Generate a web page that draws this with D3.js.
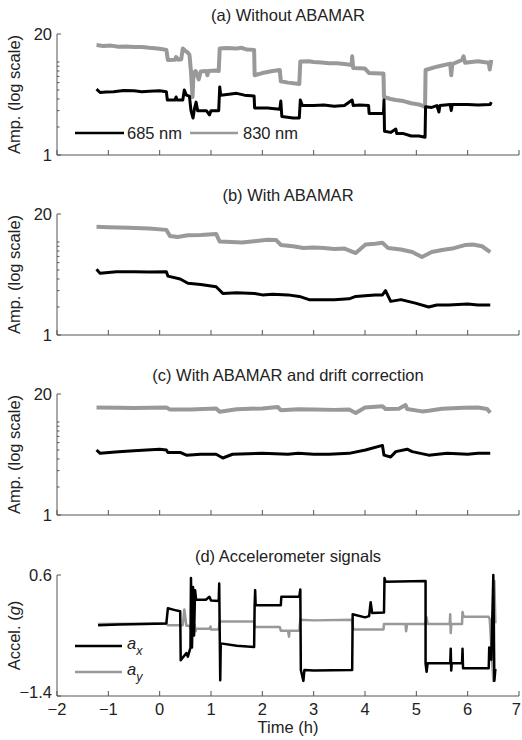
<!DOCTYPE html>
<html>
<head>
<meta charset="utf-8">
<script src="https://cdn.jsdelivr.net/npm/d3@7"></script>
<style>
  body { margin: 0; background: #fff; }
  text { font-family: "Liberation Sans", Arial, sans-serif; fill: #222; }
</style>
</head>
<body>
<div id="chart"></div>
<script>
// Time axis (hours)
const timeTicks = [-2, -1, 0, 1, 2, 3, 4, 5, 6, 7];

// (a) Without ABAMAR  [time, amplitude]
const ampA685 = [[-1.23,5.1],[-1.16,4.7],[-1.05,4.75],[-0.9,4.8],[-0.7,4.95],[-0.5,4.9],[-0.35,4.8],[-0.2,4.85],[0.0,4.9],[0.13,4.8],[0.15,3.9],[0.30,3.9],[0.32,4.2],[0.34,3.9],[0.45,3.9],[0.48,5.0],[0.52,4.4],[0.58,4.3],[0.61,3.0],[0.65,2.5],[0.68,3.2],[0.71,3.7],[0.74,3.0],[0.91,3.0],[0.97,2.7],[1.0,3.0],[1.15,3.0],[1.17,5.4],[1.19,4.4],[1.35,4.5],[1.5,4.6],[1.65,4.4],[1.84,4.3],[1.85,3.2],[2.1,3.2],[2.34,3.1],[2.36,3.8],[2.38,2.6],[2.6,2.5],[2.72,2.5],[2.74,3.9],[2.78,3.4],[3.0,3.4],[3.2,3.45],[3.4,3.35],[3.6,3.4],[3.75,3.9],[3.77,3.4],[3.9,3.45],[4.07,3.4],[4.08,2.8],[4.36,2.8],[4.37,3.9],[4.38,1.8],[4.5,1.75],[4.6,1.9],[4.62,1.7],[4.75,1.7],[4.9,1.6],[5.05,1.6],[5.17,1.55],[5.18,3.3],[5.3,3.25],[5.4,3.4],[5.44,2.9],[5.46,3.4],[5.66,3.5],[5.68,3.0],[5.70,3.5],[6.0,3.5],[6.2,3.45],[6.44,3.5],[6.46,3.7]];
const ampA830 = [[-1.23,15.2],[-1.1,14.9],[-0.95,15.0],[-0.8,14.6],[-0.65,14.7],[-0.5,14.5],[-0.35,14.5],[-0.2,14.2],[0.0,13.9],[0.13,13.5],[0.16,10.5],[0.30,10.6],[0.32,11.3],[0.36,10.6],[0.42,10.7],[0.45,14.0],[0.50,13.2],[0.55,12.6],[0.58,12.0],[0.61,7.9],[0.64,4.2],[0.66,7.6],[0.70,8.0],[0.76,6.5],[0.80,7.9],[0.91,8.0],[0.93,7.2],[0.95,8.0],[1.10,8.1],[1.15,8.0],[1.17,14.0],[1.30,14.1],[1.50,14.0],[1.60,14.2],[1.70,13.6],[1.84,13.5],[1.85,7.2],[2.0,7.6],[2.2,8.0],[2.34,8.2],[2.36,6.2],[2.5,6.0],[2.72,5.8],[2.74,10.1],[2.9,10.2],[3.0,10.0],[3.15,9.9],[3.3,9.7],[3.45,9.7],[3.6,9.5],[3.74,9.3],[3.75,11.5],[3.77,8.6],[4.0,8.5],[4.08,7.6],[4.30,7.5],[4.36,7.5],[4.37,4.2],[4.5,4.0],[4.6,3.9],[4.75,3.8],[4.9,3.6],[5.05,3.5],[5.17,3.3],[5.18,8.2],[5.4,8.9],[5.66,9.6],[5.68,7.2],[5.70,9.5],[5.89,10.5],[5.92,11.5],[5.95,9.8],[6.2,10.2],[6.41,9.8],[6.43,8.3],[6.46,10.5]];

// (b) With ABAMAR
const ampB685 = [[-1.23,5.1],[-1.16,4.6],[-1.0,4.7],[-0.84,4.8],[-0.5,4.8],[-0.2,4.75],[0.13,4.8],[0.16,4.3],[0.4,4.0],[0.55,3.6],[0.8,3.5],[1.10,3.3],[1.23,2.8],[1.5,2.85],[1.85,2.8],[2.0,2.7],[2.2,2.75],[2.5,2.7],[2.72,2.6],[2.91,2.4],[3.2,2.4],[3.4,2.4],[3.69,2.45],[3.82,2.6],[4.0,2.65],[4.2,2.7],[4.34,2.7],[4.40,3.0],[4.50,2.3],[4.7,2.4],[4.98,2.2],[5.24,2.0],[5.4,2.1],[5.63,2.1],[6.0,2.15],[6.2,2.1],[6.44,2.1]];
const ampB830 = [[-1.23,14.6],[-1.0,14.4],[-0.8,14.3],[-0.6,14.2],[-0.2,14.0],[0.13,13.5],[0.2,11.6],[0.35,11.3],[0.55,11.8],[0.8,11.9],[1.10,12.2],[1.17,10.1],[1.4,10.0],[1.6,9.9],[1.84,10.2],[2.1,10.6],[2.27,10.5],[2.36,9.3],[2.6,9.0],[2.8,8.6],[3.0,8.7],[3.2,8.6],[3.4,8.4],[3.6,8.5],[3.82,7.6],[4.01,9.4],[4.2,9.6],[4.34,9.8],[4.45,8.6],[4.7,8.3],[4.92,7.8],[5.11,6.9],[5.3,7.8],[5.5,8.2],[5.7,8.5],[5.96,9.3],[6.1,9.4],[6.28,9.0],[6.44,7.8]];

// (c) With ABAMAR and drift correction
const ampC685 = [[-1.23,5.0],[-1.16,4.6],[-0.8,4.8],[-0.5,4.9],[0.0,5.1],[0.13,5.0],[0.16,4.7],[0.4,4.7],[0.52,4.4],[0.8,4.5],[1.10,4.5],[1.23,4.1],[1.42,4.5],[2.0,4.6],[2.5,4.5],[2.7,4.6],[3.0,4.5],[3.3,4.5],[3.69,4.6],[4.01,5.0],[4.34,5.6],[4.37,4.4],[4.50,4.2],[4.6,4.8],[4.82,5.1],[4.92,4.8],[5.24,4.4],[5.6,4.6],[6.0,4.5],[6.2,4.6],[6.44,4.6]];
const ampC830 = [[-1.23,14.3],[-0.8,14.2],[-0.5,14.1],[0.13,14.3],[0.2,13.6],[0.6,13.6],[1.1,14.0],[1.17,12.9],[1.5,13.7],[2.0,14.0],[2.3,14.5],[2.36,13.4],[2.7,13.7],[3.0,13.6],[3.4,13.5],[3.69,13.6],[3.82,12.5],[4.0,14.3],[4.34,14.8],[4.4,13.8],[4.66,13.9],[4.79,15.2],[4.82,13.8],[5.11,13.0],[5.24,13.2],[5.5,13.9],[5.92,14.2],[6.2,14.3],[6.38,13.8],[6.44,12.6]];

// (d) Accelerometer signals (g)
const accX = [[-1.2,-0.23],[-0.8,-0.22],[-0.3,-0.21],[0.13,-0.2],[0.16,0.05],[0.30,0.02],[0.40,0.0],[0.41,-0.81],[0.52,-0.69],[0.55,-0.75],[0.60,-0.6],[0.61,0.55],[0.63,-0.6],[0.65,0.4],[0.67,-0.4],[0.69,0.35],[0.71,0.19],[0.90,0.19],[0.97,0.24],[1.0,0.18],[1.15,0.17],[1.16,0.46],[1.18,-1.14],[1.19,-0.53],[1.5,-0.57],[1.84,-0.59],[1.85,0.10],[1.86,0.35],[1.87,0.10],[2.36,0.10],[2.37,0.24],[2.72,0.24],[2.74,0.36],[2.75,-0.97],[2.80,-1.15],[2.82,-0.97],[3.0,-0.98],[3.75,-0.97],[3.76,-0.05],[4.0,-0.1],[4.08,-0.08],[4.11,0.15],[4.14,-0.03],[4.37,-0.02],[4.38,0.55],[4.40,0.49],[5.18,0.50],[5.18,-0.86],[5.2,-1.0],[5.22,-0.86],[5.66,-0.86],[5.67,-0.62],[5.68,-0.98],[5.69,-0.86],[5.89,-0.86],[5.90,-0.62],[5.91,-0.94],[6.41,-0.94],[6.42,-0.60],[6.46,-0.80],[6.50,0.60],[6.52,-1.15],[6.54,-0.95]];
const accY = [[-1.2,-0.21],[0.13,-0.2],[0.16,-0.23],[0.45,-0.23],[0.48,0.03],[0.52,-0.24],[0.58,-0.24],[0.61,-0.3],[0.68,-0.22],[0.70,-0.33],[0.71,-0.29],[0.97,-0.29],[0.99,-0.25],[1.0,-0.3],[1.15,-0.3],[1.17,-0.17],[1.84,-0.17],[1.85,-0.26],[2.34,-0.26],[2.36,-0.32],[2.5,-0.32],[2.52,-0.42],[2.53,-0.32],[2.72,-0.32],[2.74,-0.14],[3.0,-0.15],[3.75,-0.14],[3.77,-0.3],[4.36,-0.3],[4.37,-0.21],[4.79,-0.21],[4.80,-0.33],[4.82,-0.21],[5.18,-0.21],[5.20,-0.1],[5.22,-0.21],[5.65,-0.21],[5.66,-0.05],[5.67,-0.36],[5.68,-0.21],[5.89,-0.21],[5.90,-0.01],[5.92,-0.09],[6.41,-0.09],[6.43,-0.13],[6.50,-1.15],[6.52,0.5],[6.54,-0.2]];

const ampTicks = [1, 20];
const ampMinor = [2, 3, 4, 5, 6, 7, 8, 9, 10];
const accTicks = [-1.4, 0.6];

const panelTitles = ['(a) Without ABAMAR', '(b) With ABAMAR', '(c) With ABAMAR and drift correction', '(d) Accelerometer signals'];
const ampSeries = [[ampA685, ampA830], [ampB685, ampB830], [ampC685, ampC830]];

const black = '#000', gray = '#999', axisColor = '#555';
const width = 522, height = 740;
const left = 57, right = 519, panelH = 121;
const panelTops = [34, 214, 394, 575];
const fs = 16.5;

const svg = d3.select('#chart').append('svg')
    .attr('width', width)
    .attr('height', height);

const x = d3.scaleLinear().domain([-2, 7]).range([left, right]);

function drawFrame(g, top, title) {
    const bottom = top + panelH;
    // x axis, ticks point inward
    g.append('line').attr('x1', left).attr('x2', right).attr('y1', bottom).attr('y2', bottom)
        .attr('stroke', axisColor);
    g.selectAll('.xt').data(timeTicks).join('line')
        .attr('x1', d => x(d)).attr('x2', d => x(d))
        .attr('y1', bottom).attr('y2', bottom - 5)
        .attr('stroke', axisColor);
    // y axis
    g.append('line').attr('x1', left).attr('x2', left).attr('y1', top).attr('y2', bottom)
        .attr('stroke', axisColor);
    g.append('text')
        .attr('x', (left + right) / 2).attr('y', top - 13)
        .attr('text-anchor', 'middle').attr('font-size', fs)
        .text(title);
    return g.append('text')
        .attr('transform', `translate(20,${top + panelH / 2}) rotate(-90)`)
        .attr('text-anchor', 'middle').attr('font-size', fs);
}

const line = d3.line();

ampSeries.forEach((series, i) => {
    const top = panelTops[i];
    const y = d3.scaleLog().domain([1, 20]).range([top + panelH, top]);
    const g = svg.append('g');
    drawFrame(g, top, panelTitles[i]).text('Amp. (log scale)');

    g.selectAll('.ymaj').data(ampTicks).join('line')
        .attr('x1', left).attr('x2', left + 4)
        .attr('y1', d => y(d)).attr('y2', d => y(d))
        .attr('stroke', axisColor);
    g.selectAll('.ymin').data(ampMinor).join('line')
        .attr('x1', left).attr('x2', left + 2.5)
        .attr('y1', d => y(d)).attr('y2', d => y(d))
        .attr('stroke', axisColor);
    g.selectAll('.ylab').data(ampTicks).join('text')
        .attr('x', 52).attr('y', d => y(d))
        .attr('dy', '0.35em')
        .attr('text-anchor', 'end').attr('font-size', fs)
        .text(d => d);

    line.x(d => x(d[0])).y(d => y(d[1]));
    g.append('path').datum(series[1])
        .attr('d', line).attr('fill', 'none')
        .attr('stroke', gray).attr('stroke-width', 4).attr('stroke-linejoin', 'round');
    g.append('path').datum(series[0])
        .attr('d', line).attr('fill', 'none')
        .attr('stroke', black).attr('stroke-width', 3).attr('stroke-linejoin', 'round');
});

// legend for panel (a)
const leg = svg.append('g');
const legY = 133;
leg.append('line').attr('x1', 75).attr('x2', 124).attr('y1', legY).attr('y2', legY)
    .attr('stroke', black).attr('stroke-width', 2.5);
leg.append('text').attr('x', 127).attr('y', legY).attr('dy', '0.35em').attr('font-size', fs).text('685 nm');
leg.append('line').attr('x1', 190).attr('x2', 238).attr('y1', legY).attr('y2', legY)
    .attr('stroke', gray).attr('stroke-width', 2.5);
leg.append('text').attr('x', 243).attr('y', legY).attr('dy', '0.35em').attr('font-size', fs).text('830 nm');

// panel (d)
{
    const top = panelTops[3], bottom = top + panelH;
    const y = d3.scaleLinear().domain([-1.4, 0.6]).range([bottom, top]);
    const g = svg.append('g');
    const lab = drawFrame(g, top, panelTitles[3]);
    lab.append('tspan').text('Accel. (');
    lab.append('tspan').attr('font-style', 'italic').text('g');
    lab.append('tspan').text(')');

    g.selectAll('.ymaj').data(accTicks).join('line')
        .attr('x1', left).attr('x2', left + 4)
        .attr('y1', d => y(d)).attr('y2', d => y(d))
        .attr('stroke', axisColor);
    g.selectAll('.ylab').data(accTicks).join('text')
        .attr('x', 52).attr('y', d => y(d))
        .attr('dy', d => d < 0 ? '0.1em' : '0.35em')
        .attr('text-anchor', 'end').attr('font-size', fs)
        .text(d => d3.format('.1f')(d).replace('-', '\u2212'));

    // last label would run off the right edge, so pin it there
    g.selectAll('.xlab').data(timeTicks).join('text')
        .attr('x', d => d === 7 ? width - 1 : x(d)).attr('y', bottom + 19)
        .attr('text-anchor', d => d === 7 ? 'end' : 'middle').attr('font-size', fs)
        .text(d => String(d).replace('-', '\u2212'));
    g.append('text')
        .attr('x', (left + right) / 2).attr('y', bottom + 37)
        .attr('text-anchor', 'middle').attr('font-size', fs)
        .text('Time (h)');

    line.x(d => x(d[0])).y(d => y(d[1]));
    g.append('path').datum(accY)
        .attr('d', line).attr('fill', 'none')
        .attr('stroke', gray).attr('stroke-width', 2.5).attr('stroke-linejoin', 'round');
    g.append('path').datum(accX)
        .attr('d', line).attr('fill', 'none')
        .attr('stroke', black).attr('stroke-width', 2.5).attr('stroke-linejoin', 'round');

    // legend a_x / a_y
    const items = [{ c: black, s: 'x', yy: 646 }, { c: gray, s: 'y', yy: 672 }];
    items.forEach(it => {
        g.append('line').attr('x1', 75).attr('x2', 122).attr('y1', it.yy).attr('y2', it.yy)
            .attr('stroke', it.c).attr('stroke-width', 2.5);
        const t = g.append('text').attr('x', 127).attr('y', it.yy).attr('dy', '0.2em')
            .attr('font-size', fs).attr('font-style', 'italic');
        t.append('tspan').text('a');
        t.append('tspan').attr('font-size', 12.5).attr('dy', '0.45em').text(it.s);
    });
}
</script>
</body>
</html>
